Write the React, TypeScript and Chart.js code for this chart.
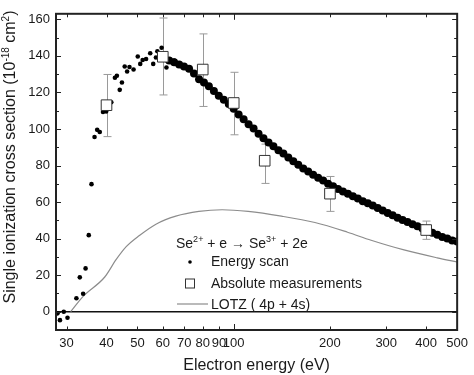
import React, { useEffect, useRef } from "react";
import { Chart, registerables } from "chart.js";
Chart.register(...registerables);

const FONT = '"Liberation Sans", Arial, sans-serif';

// Energy scan: isolated points (eV, 1e-18 cm^2)
const scanScatterE = [28.1, 28.6, 29.4, 30.2, 32.2, 33.0, 33.8, 34.4, 35.2, 35.9, 36.7, 37.4, 38.1, 39.0, 39.9, 41.4, 42.5, 43.1, 44.0, 44.7, 45.6, 46.4, 47.2, 48.6, 50.1, 51.0, 51.9, 53.2, 54.8, 56.0, 57.1, 57.7, 59.5, 61.6, 65.1];
const scanScatterV = [-0.9, -4.6, 0, -3.3, 7.4, 18.8, 9.8, 23.7, 41.9, 69.8, 95.6, 99.5, 98.3, 109.3, 109.6, 114.6, 128, 129.1, 121.4, 125.4, 134.2, 131.4, 133.9, 132.5, 139.6, 135.6, 137.7, 138.3, 141.4, 135.6, 139.1, 142.5, 144.4, 133.6, 137.4];

// Energy scan: dense band
const scanBandE = [62.8, 65.1, 67.5, 69.9, 72.5, 75.1, 77.9, 80.7, 83.6, 86.7, 89.8, 93.1, 96.5, 100, 103.6, 107.4, 111.3, 115.4, 119.6, 123.9, 128.5, 133.1, 138, 143, 148.2, 153.6, 159.2, 165, 171, 177.2, 183.7, 190.4, 197.3, 204.5, 211.9, 219.6, 227.6, 235.9, 244.5, 253.4, 262.7, 272.2, 282.1, 292.4, 303.1, 314.1, 325.5, 337.4, 349.7, 362.4, 375.6, 389.3, 403.5, 418.1, 433.4, 449.2, 465.5, 482.5, 500];
const scanBandV = [137.4, 136.5, 135.3, 134.2, 133, 130.4, 127.2, 125.4, 123.3, 120.7, 118.1, 116, 113.7, 111.1, 107.9, 105.3, 102.6, 100.2, 97.4, 94.9, 92.6, 90.5, 88.3, 86.5, 84.4, 82.3, 80.4, 78.4, 76.7, 74.9, 73.3, 71.8, 70, 68.6, 67.2, 65.8, 64.6, 63.2, 61.9, 60.5, 59.3, 58.1, 56.7, 55.4, 54, 52.8, 51.4, 50.2, 49.1, 47.9, 46.7, 45.6, 44.4, 43.2, 42.1, 40.9, 40, 38.9, 38.4];

// Absolute measurements
const absE = [40, 60, 80, 100, 125, 200, 400];
const absV = [113, 139.5, 132.5, 114.2, 82.6, 64.6, 44.7];
const absErrLow = [95.8, 118.6, 112.3, 96.8, 70.2, 54.9, 39.6];
const absErrHigh = [129.8, 160.7, 152, 131, 91.7, 74, 49.6];

// LOTZ (4p + 4s)
const lotzE = [30.9, 33.8, 39.5, 42.9, 46.1, 50.7, 57.1, 65.9, 77.8, 92, 111, 141, 179.5, 227, 269, 341, 433, 500];
const lotzV = [0, 8.4, 19, 28.6, 35.6, 41.7, 47.9, 52.3, 54.9, 55.8, 54.9, 52.3, 48.8, 43.5, 39.1, 33.8, 29.5, 27.2];

const xTickLabels = [30, 40, 50, 60, 70, 80, 90, 100, 200, 300, 400, 500];
const xMajorTicks = [100];
const yTickLabels = [0, 20, 40, 60, 80, 100, 120, 140, 160];
const yMinorTicks = [10, 30, 50, 70, 90, 110, 130, 150];

const xTitle = "Electron energy (eV)";
const yTitleParts: [string, boolean][] = [["Single ionization cross section (10", false], ["-18", true], [" cm", false], ["2", true], [")", false]];
const legendHeader: [string, boolean][] = [["Se", false], ["2+", true], [" + e \u2192 Se", false], ["3+", true], [" + 2e", false]];
const legendLabels = ["Energy scan", "Absolute measurements", "LOTZ ( 4p + 4s)"];

function drawParts(ctx: CanvasRenderingContext2D, parts: [string, boolean][], x: number, y: number, size: number, supSize: number, rise: number, center: boolean) {
  const fNorm = `${size}px ${FONT}`;
  const fSup = `${supSize}px ${FONT}`;
  let total = 0;
  for (const [t, s] of parts) {
    ctx.font = s ? fSup : fNorm;
    total += ctx.measureText(t).width;
  }
  let cx = center ? x - total / 2 : x;
  ctx.textAlign = "left";
  for (const [t, s] of parts) {
    ctx.font = s ? fSup : fNorm;
    ctx.fillText(t, cx, s ? y - rise : y);
    cx += ctx.measureText(t).width;
  }
}

const decorPlugin = {
  id: "decor",
  beforeDatasetsDraw(chart: any) {
    const { ctx, chartArea: a, scales } = chart;
    const x = scales.x, y = scales.y;
    ctx.save();
    ctx.strokeStyle = "#111";
    ctx.lineWidth = 1.5;
    const y0 = y.getPixelForValue(0);
    ctx.beginPath();
    ctx.moveTo(a.left, y0);
    ctx.lineTo(a.right, y0);
    ctx.stroke();
    ctx.strokeStyle = "#9a9a9a";
    ctx.lineWidth = 1;
    absE.forEach((e, i) => {
      const px = Math.round(x.getPixelForValue(e)) + 0.5;
      const pl = y.getPixelForValue(absErrLow[i]);
      const ph = y.getPixelForValue(absErrHigh[i]);
      ctx.beginPath();
      ctx.moveTo(px, pl);
      ctx.lineTo(px, ph);
      ctx.moveTo(px - 4, pl);
      ctx.lineTo(px + 4, pl);
      ctx.moveTo(px - 4, ph);
      ctx.lineTo(px + 4, ph);
      ctx.stroke();
    });
    ctx.restore();
  },
  afterDraw(chart: any) {
    const { ctx, chartArea: a, scales } = chart;
    const x = scales.x, y = scales.y;
    ctx.save();
    // ticks
    ctx.strokeStyle = "#222";
    ctx.lineWidth = 1;
    const yTick = (v: number, len: number) => {
      const py = Math.round(y.getPixelForValue(v)) + 0.5;
      ctx.beginPath();
      ctx.moveTo(a.left, py);
      ctx.lineTo(a.left + len, py);
      ctx.moveTo(a.right, py);
      ctx.lineTo(a.right - len, py);
      ctx.stroke();
    };
    yTickLabels.forEach((v) => yTick(v, 5));
    yMinorTicks.forEach((v) => yTick(v, 3));
    xTickLabels.forEach((v) => {
      const len = xMajorTicks.includes(v) ? 6 : 3.5;
      const px = Math.round(x.getPixelForValue(v)) + 0.5;
      ctx.beginPath();
      ctx.moveTo(px, a.bottom);
      ctx.lineTo(px, a.bottom - len);
      ctx.moveTo(px, a.top);
      ctx.lineTo(px, a.top + len);
      ctx.stroke();
    });
    // frame
    ctx.strokeStyle = "#222";
    ctx.lineWidth = 2;
    ctx.strokeRect(a.left, a.top, a.right - a.left, a.bottom - a.top);

    // titles
    ctx.fillStyle = "#1a1a1a";
    ctx.textBaseline = "middle";
    ctx.textAlign = "center";
    ctx.font = `16px ${FONT}`;
    ctx.fillText(xTitle, (a.left + a.right) / 2, 366);
    ctx.save();
    ctx.translate(11, 157);
    ctx.rotate(-Math.PI / 2);
    drawParts(ctx, yTitleParts, 0, 0, 16, 10, 5, true);
    ctx.restore();

    // legend
    ctx.textBaseline = "alphabetic";
    drawParts(ctx, legendHeader, 176, 248, 14, 9, 6, false);
    ctx.font = `14px ${FONT}`;
    ctx.textAlign = "left";
    ctx.fillText(legendLabels[0], 211, 266);
    ctx.fillText(legendLabels[1], 211, 287.5);
    ctx.fillText(legendLabels[2], 211, 308.5);
    ctx.fillStyle = "#000";
    ctx.beginPath();
    ctx.arc(190, 262, 1.8, 0, Math.PI * 2);
    ctx.fill();
    ctx.fillStyle = "#fff";
    ctx.strokeStyle = "#333";
    ctx.lineWidth = 1;
    ctx.fillRect(185.5, 279, 9, 9);
    ctx.strokeRect(185.5, 279, 9, 9);
    ctx.strokeStyle = "#8c8c8c";
    ctx.lineWidth = 1.2;
    ctx.beginPath();
    ctx.moveTo(177, 304);
    ctx.lineTo(208, 304);
    ctx.stroke();
    ctx.restore();
  },
};

export default function App() {
  const ref = useRef<HTMLCanvasElement | null>(null);
  useEffect(() => {
    if (!ref.current) return;
    const tickFont = { family: FONT, size: 13 };
    const chart = new Chart(ref.current, {
      type: "scatter",
      data: {
        datasets: [
          {
            label: legendLabels[2],
            data: lotzE.map((e, i) => ({ x: e, y: lotzV[i] })),
            showLine: true,
            borderColor: "#8c8c8c",
            borderWidth: 1.2,
            pointRadius: 0,
            cubicInterpolationMode: "monotone",
            order: 4,
          } as any,
          {
            label: legendLabels[0],
            data: scanBandE.map((e, i) => ({ x: e, y: scanBandV[i] })),
            pointRadius: 4,
            backgroundColor: "#000",
            borderWidth: 0,
            order: 3,
          },
          {
            label: legendLabels[0],
            data: scanScatterE.map((e, i) => ({ x: e, y: scanScatterV[i] })),
            pointRadius: 2.3,
            backgroundColor: "#000",
            borderWidth: 0,
            order: 2,
          },
          {
            label: legendLabels[1],
            data: absE.map((e, i) => ({ x: e, y: absV[i] })),
            pointStyle: "rect",
            pointRadius: 7.5,
            backgroundColor: "#fff",
            borderColor: "#333",
            borderWidth: 1,
            order: 1,
          },
        ],
      },
      options: {
        responsive: false,
        animation: false,
        events: [],
        layout: { autoPadding: false, padding: { top: 1, right: 13, left: 0, bottom: 0 } } as any,
        plugins: { legend: { display: false }, tooltip: { enabled: false } },
        scales: {
          x: {
            type: "logarithmic",
            min: 27.8,
            max: 500,
            afterBuildTicks: (s: any) => {
              s.ticks = xTickLabels.map((v) => ({ value: v }));
            },
            afterFit: (s: any) => {
              s.height = 45;
            },
            grid: { display: false, drawTicks: false },
            border: { display: false },
            ticks: {
              autoSkip: false,
              maxRotation: 0,
              padding: 6,
              font: tickFont,
              color: "#1a1a1a",
              callback: (v: any) => String(v),
            },
          },
          y: {
            min: -10,
            max: 163,
            afterBuildTicks: (s: any) => {
              s.ticks = yTickLabels.map((v) => ({ value: v }));
            },
            afterFit: (s: any) => {
              s.width = 56;
            },
            grid: { display: false, drawTicks: false },
            border: { display: false },
            ticks: {
              padding: 6,
              font: tickFont,
              color: "#1a1a1a",
              callback: (v: any) => String(v),
            },
          },
        },
      },
      plugins: [decorPlugin],
    });
    return () => chart.destroy();
  }, []);
  return (
    <div style={{ position: "absolute", left: 0, top: 0, width: 474, height: 375, background: "#fff" }}>
      <canvas ref={ref} width={474} height={375} style={{ display: "block" }} />
    </div>
  );
}
